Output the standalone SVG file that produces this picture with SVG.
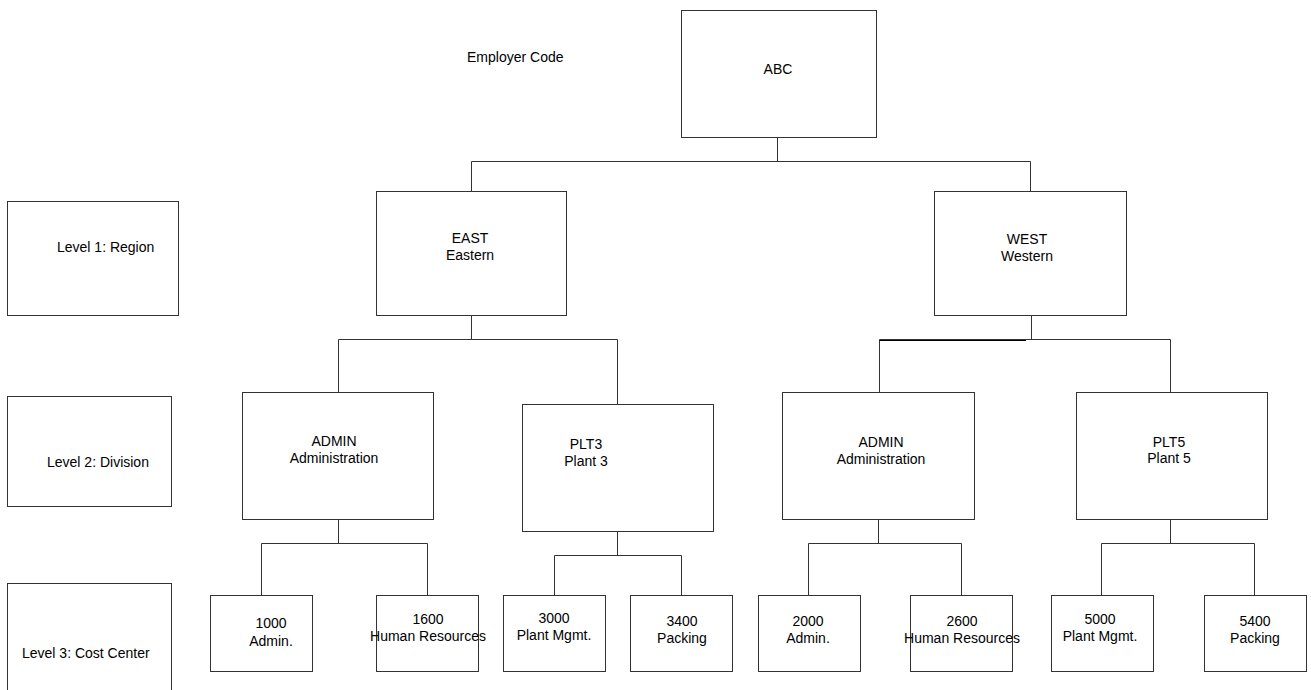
<svg xmlns="http://www.w3.org/2000/svg" width="1311" height="690" viewBox="0 0 1311 690">
<style>
.box{fill:#ffffff;stroke:#333333;stroke-width:1}
.ln{fill:none;stroke:#333333;stroke-width:1}
.dk{fill:none;stroke:#000000;stroke-width:1}
text{font-family:"Liberation Sans",Arial,sans-serif;font-size:14px;fill:#000000}
.c{text-anchor:middle}
</style>
<rect width="1311" height="690" fill="#ffffff"/>
<g id="connectors">
<path class="ln" d="M777.5 137.5V161.5M471.5 161.5H1030.5M471.5 161.5V191.5M1030.5 161.5V191.5"/>
<path class="ln" d="M471.5 315.5V339.5M338.5 339.5H617.5M338.5 339.5V392.5M617.5 339.5V404.5"/>
<path class="ln" d="M1031.5 315.5V339.5M879.5 339.5H1170.5M879.5 339.5V392.5M1170.5 339.5V392.5"/>
<path class="dk" d="M879.5 340.5H1026"/>
<path class="ln" d="M338.5 519.5V543.5M261.5 543.5H427.5M261.5 543.5V595.5M427.5 543.5V595.5"/>
<path class="ln" d="M617.5 531.5V555.5M554.5 555.5H681.5M554.5 555.5V595.5M681.5 555.5V595.5"/>
<path class="ln" d="M878.5 519.5V543.5M808.5 543.5H961.5M808.5 543.5V595.5M961.5 543.5V595.5"/>
<path class="ln" d="M1170.5 519.5V543.5M1101.5 543.5H1254.5M1101.5 543.5V595.5M1254.5 543.5V595.5"/>
</g>
<g id="employer-label"><text x="467" y="62">Employer Code</text></g>
<g id="abc"><rect class="box" x="681.5" y="10.5" width="195" height="127"/><text class="c" x="778" y="74">ABC</text></g>
<g id="level1"><rect class="box" x="7.5" y="201.5" width="171" height="114"/><text x="57" y="252">Level 1: Region</text></g>
<g id="level2"><rect class="box" x="7.5" y="396.5" width="164" height="110"/><text x="47" y="467">Level 2: Division</text></g>
<g id="level3"><rect class="box" x="7.5" y="583.5" width="164" height="120"/><text x="22" y="658">Level 3: Cost Center</text></g>
<g id="east"><rect class="box" x="376.5" y="191.5" width="190" height="124"/><text class="c" x="470" y="243">EAST</text><text class="c" x="470" y="260">Eastern</text></g>
<g id="west"><rect class="box" x="934.5" y="191.5" width="192" height="124"/><text class="c" x="1027" y="244">WEST</text><text class="c" x="1027" y="261">Western</text></g>
<g id="admin-east"><rect class="box" x="242.5" y="392.5" width="191" height="127"/><text class="c" x="334" y="446">ADMIN</text><text class="c" x="334" y="463">Administration</text></g>
<g id="plt3"><rect class="box" x="522.5" y="404.5" width="191" height="127"/><text class="c" x="586" y="449">PLT3</text><text class="c" x="586" y="466">Plant 3</text></g>
<g id="admin-west"><rect class="box" x="782.5" y="392.5" width="192" height="127"/><text class="c" x="881" y="447">ADMIN</text><text class="c" x="881" y="464">Administration</text></g>
<g id="plt5"><rect class="box" x="1076.5" y="392.5" width="191" height="127"/><text class="c" x="1169" y="447">PLT5</text><text class="c" x="1169" y="463">Plant 5</text></g>
<g id="cc1000"><rect class="box" x="210.5" y="595.5" width="102" height="76"/><text class="c" x="271" y="628">1000</text><text class="c" x="271" y="646">Admin.</text></g>
<g id="cc1600"><rect class="box" x="376.5" y="595.5" width="102" height="76"/><text class="c" x="428" y="624">1600</text><text class="c" x="428" y="641">Human Resources</text></g>
<g id="cc3000"><rect class="box" x="503.5" y="595.5" width="102" height="76"/><text class="c" x="554" y="623">3000</text><text class="c" x="554" y="640">Plant Mgmt.</text></g>
<g id="cc3400"><rect class="box" x="630.5" y="595.5" width="102" height="76"/><text class="c" x="682" y="626">3400</text><text class="c" x="682" y="643">Packing</text></g>
<g id="cc2000"><rect class="box" x="758.5" y="595.5" width="102" height="76"/><text class="c" x="808" y="626">2000</text><text class="c" x="808" y="643">Admin.</text></g>
<g id="cc2600"><rect class="box" x="910.5" y="595.5" width="102" height="76"/><text class="c" x="962" y="626">2600</text><text class="c" x="962" y="643">Human Resources</text></g>
<g id="cc5000"><rect class="box" x="1051.5" y="595.5" width="102" height="76"/><text class="c" x="1100" y="624">5000</text><text class="c" x="1100" y="641">Plant Mgmt.</text></g>
<g id="cc5400"><rect class="box" x="1204.5" y="595.5" width="102" height="76"/><text class="c" x="1255" y="626">5400</text><text class="c" x="1255" y="643">Packing</text></g>
</svg>
